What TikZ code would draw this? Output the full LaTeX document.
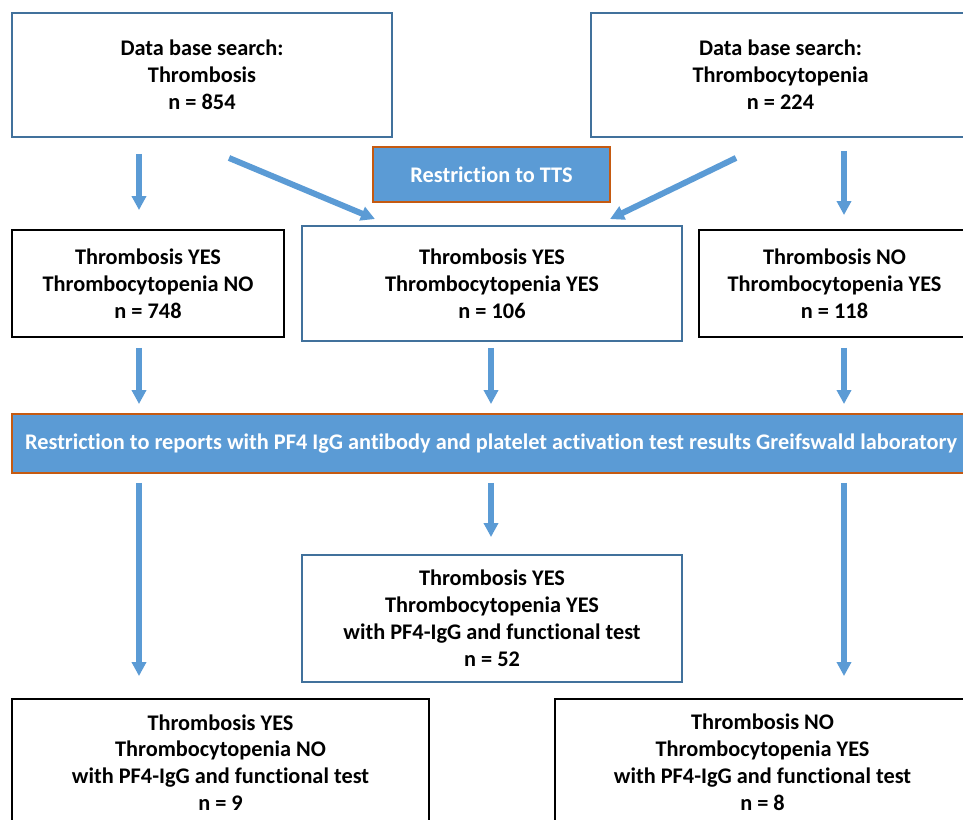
\documentclass[tikz,border=0pt]{standalone}
\usepackage{fontspec}
\setmainfont{Carlito}[Ligatures=NoCommon]
\usetikzlibrary{arrows.meta}
\definecolor{fillblue}{HTML}{5B9BD5}
\definecolor{boxblue}{HTML}{41719C}
\definecolor{edgeorange}{HTML}{C55A11}

\begin{document}
\begin{tikzpicture}[
    x=0.02cm, y=-0.02cm,
    box/.style={draw=black, line width=1.1pt, align=center, inner sep=0pt,
        font=\fontsize{12.7}{15.3}\selectfont\bfseries},
    bbox/.style={box, draw=boxblue},
    restr/.style={box, draw=edgeorange, fill=fillblue, text=white},
    arr/.style={draw=fillblue, line width=3.4pt, -{Triangle[width=2.8mm, length=2.8mm]}},
    ]
\useasboundingbox (0,0) rectangle (963,819);
\clip (0,0) rectangle (963,819);

% searches
\node[bbox, minimum width=7.6cm, minimum height=2.48cm] (A) at (202,75)
    {Data base search:\\Thrombosis\\n = 854};
\node[bbox, minimum width=7.58cm, minimum height=2.48cm] (B) at (780.5,75)
    {Data base search:\\Thrombocytopenia\\n = 224};
\node[restr, minimum width=4.74cm, minimum height=1.1cm] (tts) at (491.5,174.5)
    {Restriction to TTS};

% split
\node[box, minimum width=5.44cm, minimum height=2.14cm] (rowL) at (148,283.5)
    {Thrombosis YES\\Thrombocytopenia NO\\n = 748};
\node[bbox, minimum width=7.6cm, minimum height=2.3cm] (rowM) at (492,283.5)
    {Thrombosis YES\\Thrombocytopenia YES\\n = 106};
\node[box, minimum width=5.42cm, minimum height=2.14cm] (rowR) at (834.5,283.5)
    {Thrombosis NO\\Thrombocytopenia YES\\n = 118};

\node[restr, minimum width=19.16cm, minimum height=1.18cm] (bar) at (491,443.5)
    {Restriction to reports with PF4 IgG antibody and platelet activation test results Greifswald laboratory};

% results
\node[bbox, minimum width=7.6cm, minimum height=2.54cm] (resM) at (492,618.5)
    {Thrombosis YES\\Thrombocytopenia YES\\with PF4-IgG and functional test\\n = 52};
\node[box, minimum width=8.34cm, minimum height=2.54cm] (resL) at (220.5,762.5)
    {Thrombosis YES\\Thrombocytopenia NO\\with PF4-IgG and functional test\\n = 9};
\node[box, minimum width=8.3cm, minimum height=2.54cm] (resR) at (762.5,762.5)
    {Thrombosis NO\\Thrombocytopenia YES\\with PF4-IgG and functional test\\n = 8};

\coordinate (cL) at (139,0);
\coordinate (cM) at (491,0);
\coordinate (cR) at (844,0);

\foreach \i/\j/\c/\s/\e in {A/rowL/cL/16/19, B/rowR/cR/13/14,
            rowL/bar/cL/10/9, rowM/bar/cM/6/9, rowR/bar/cR/10/9,
            bar/resL/cL/9/22, bar/resM/cM/9/17, bar/resR/cR/9/22}
    \draw[arr] ([yshift=-\s*0.02cm]\i.south -| \c)--([yshift=\e*0.02cm]\j.north -| \c);

\draw[arr] ([shift={(27,20)}]A.south)--([shift={(-117,-6)}]rowM.north);
\draw[arr] ([shift={(-44.5,20)}]B.south)--([shift={(118,-6)}]rowM.north);

\end{tikzpicture}
\end{document}
